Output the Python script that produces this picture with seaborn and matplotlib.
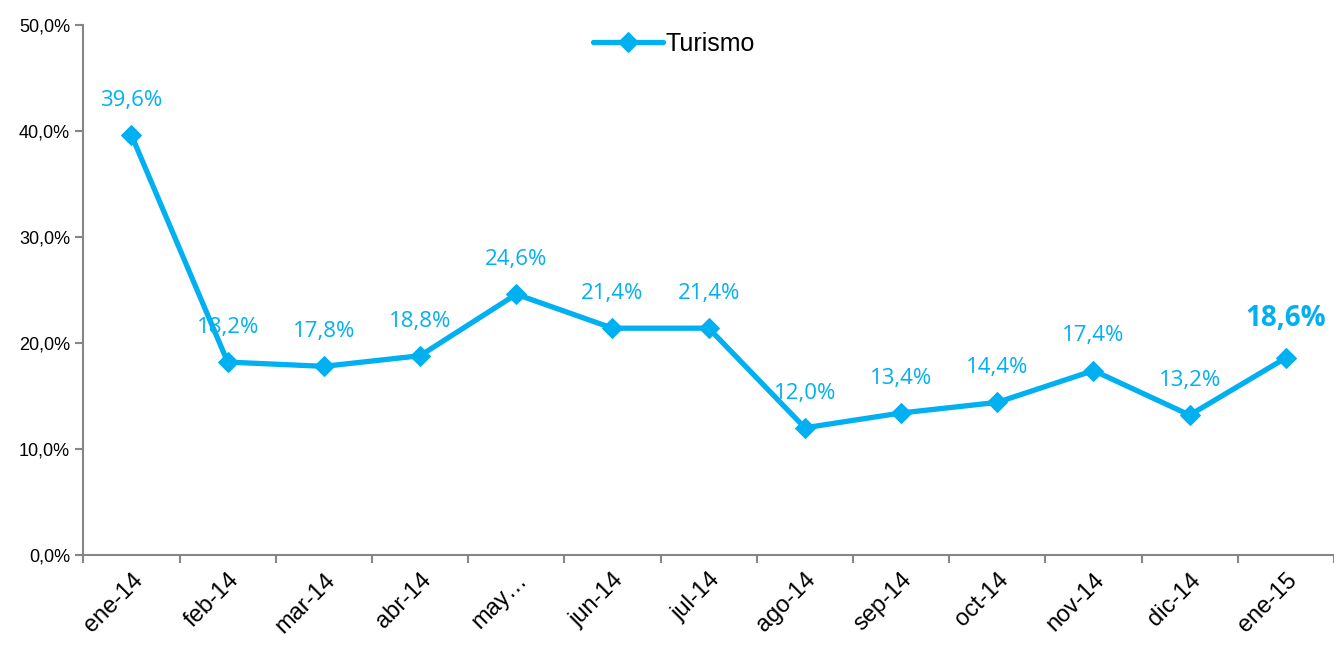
import matplotlib
matplotlib.use("Agg")
import matplotlib.pyplot as plt
import seaborn as sns
import pandas as pd
from matplotlib.ticker import FixedLocator, FuncFormatter

months = ["ene-14", "feb-14", "mar-14", "abr-14", "may…", "jun-14", "jul-14",
          "ago-14", "sep-14", "oct-14", "nov-14", "dic-14", "ene-15"]
turismo = [39.6, 18.2, 17.8, 18.8, 24.6, 21.4, 21.4, 12.0, 13.4, 14.4, 17.4, 13.2, 18.6]
y_ticks = [0, 10, 20, 30, 40, 50]

BLUE = "#00B0F0"
GREY = "#868686"

sns.set_style("white")
plt.rcParams["font.family"] = ["Liberation Sans", "DejaVu Sans"]
plt.rcParams["text.color"] = "black"

df = pd.DataFrame({"mes": range(len(months)), "valor": turismo})

fig = plt.figure(figsize=(13.34, 6.48), dpi=100)
ax = fig.add_axes([0.0625, 0.1435, 0.9375, 0.8179])

sns.lineplot(data=df, x="mes", y="valor", ax=ax, color=BLUE, linewidth=3.8,
             marker="D", markersize=10, markeredgecolor=BLUE, label="Turismo")

# data labels
for i, v in enumerate(turismo):
    txt = f"{v:.1f}%".replace(".", ",")
    last = i == len(turismo) - 1
    ax.annotate(txt, (i, v), xytext=(0, 25 if not last else 28), textcoords="offset points",
                ha="center", va="center", color=BLUE,
                fontsize=20 if last else 16, fontweight="bold" if last else "normal",
                family=["Open Sans", "DejaVu Sans"])

ax.set_xlim(-0.5, len(months) - 0.5)
ax.set_ylim(0, 50)
ax.set_xlabel("")
ax.set_ylabel("")

ax.yaxis.set_major_locator(FixedLocator(y_ticks))
ax.yaxis.set_major_formatter(FuncFormatter(lambda v, p: f"{v:.1f}%".replace(".", ",")))
ax.tick_params(axis="y", direction="out", length=6, width=1.5, color=GREY,
               labelsize=13, labelcolor="black", left=True)

ax.set_xticks(range(len(months)))
ax.set_xticklabels(months, rotation=45, ha="right", rotation_mode="anchor")
ax.xaxis.set_minor_locator(FixedLocator([i - 0.5 for i in range(len(months) + 1)]))
ax.tick_params(axis="x", which="major", length=0, labelsize=17, pad=10,
               labelcolor="black")
ax.tick_params(axis="x", which="minor", direction="out", length=6, width=1.5,
               color=GREY, bottom=True)

for side in ["top", "right"]:
    ax.spines[side].set_visible(False)
for side in ["left", "bottom"]:
    ax.spines[side].set_color(GREY)
    ax.spines[side].set_linewidth(1.5)

leg = ax.legend(loc="upper center", bbox_to_anchor=(0.472, 1.03), frameon=False,
                fontsize=18, handlelength=2.8, handletextpad=0.1)
for t in leg.get_texts():
    t.set_color("black")

fig.savefig("out.png", dpi=100)
